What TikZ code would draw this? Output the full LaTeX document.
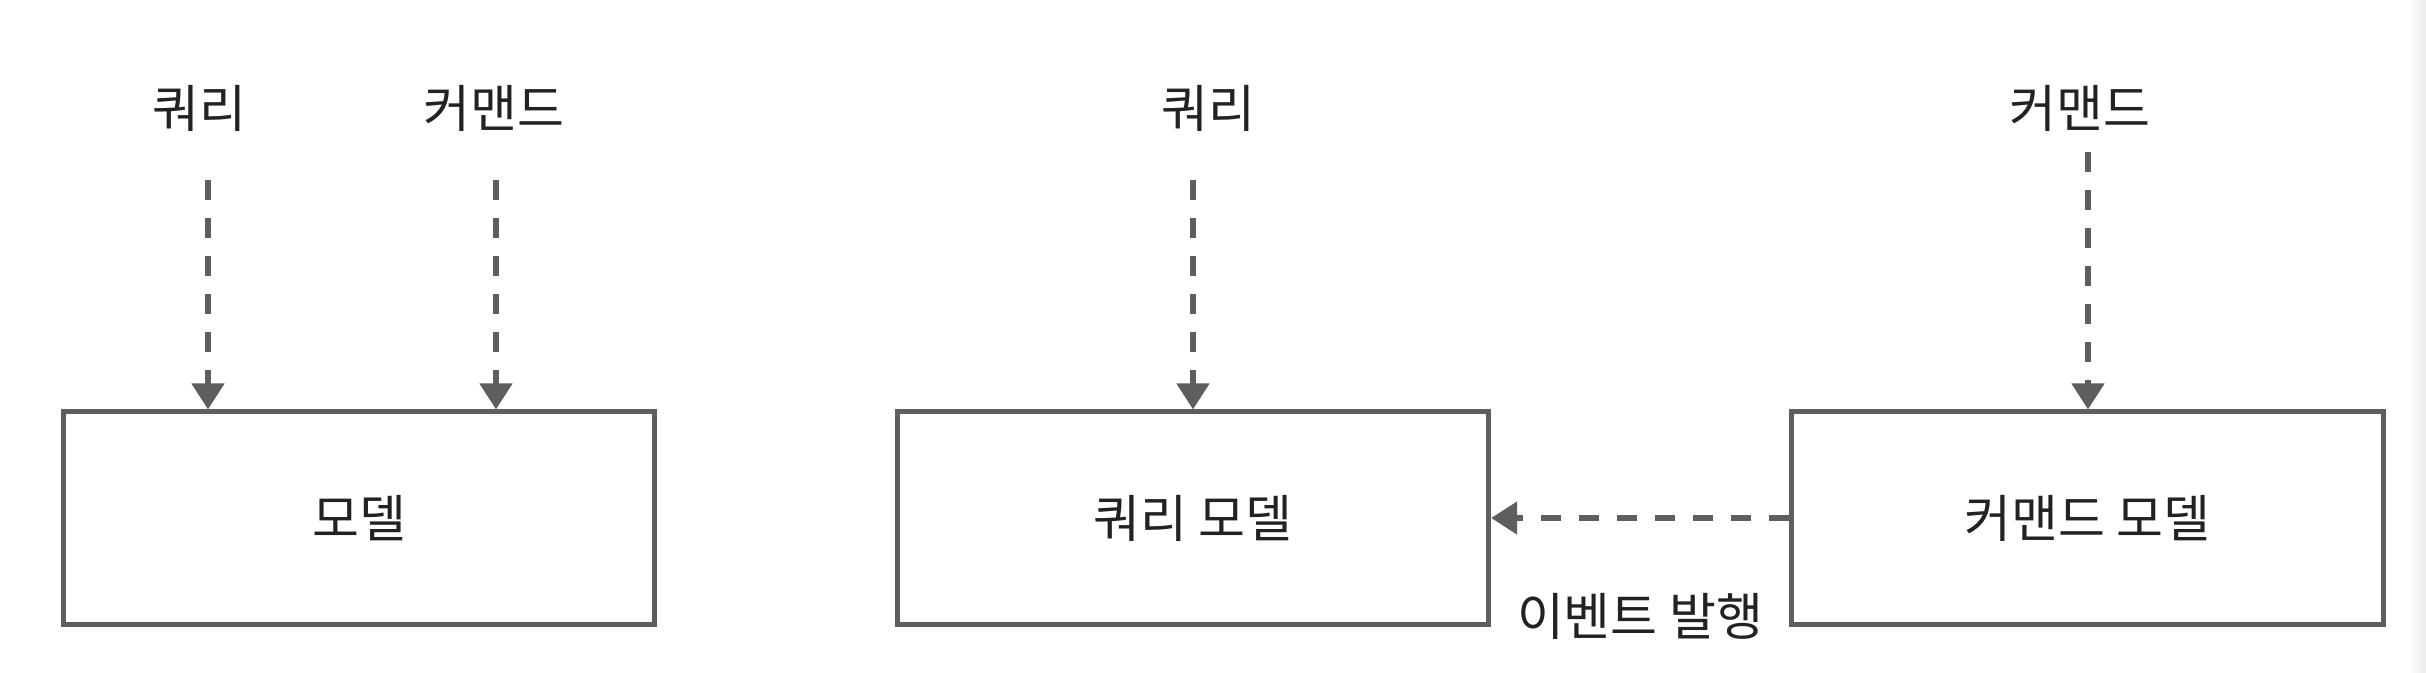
\documentclass[tikz,border=0pt]{standalone}
\usepackage{fontspec}
\setmainfont{Noto Sans CJK KR}
\usetikzlibrary{arrows.meta}
\definecolor{linegray}{HTML}{5E5E5E}
\definecolor{txt}{HTML}{222222}
\definecolor{edgegray}{HTML}{EBEBEB}
\tikzset{
  modelbox/.style={draw=linegray, line width=1.45pt, minimum width=5.91cm, minimum height=2.12cm, inner sep=0pt, text=txt, font=\fontsize{14.5}{16}\selectfont},
  lbl/.style={text=txt, inner sep=0pt, font=\fontsize{14.5}{16}\selectfont},
  dasharrow/.style={draw=linegray, line width=1.45pt, dash pattern=on 0.2cm off 0.18cm, -{Triangle[width=0.32cm,length=0.26cm]}}
}
\begin{document}
\begin{tikzpicture}[x=0.01cm,y=-0.01cm]
\useasboundingbox[fill=white] (0,0) rectangle (2426,672);
\shade[left color=white, right color=edgegray] (2408,0) rectangle (2426,672);
% boxes
\node[modelbox] (m1) at (359,518) {모델};
\node[modelbox] (qm) at (1193,518) {쿼리 모델};
\node[modelbox] (cm) at (2087.5,518) {커맨드 모델};
% labels
\node[lbl] (q1) at (199,108) {쿼리};
\node[lbl] (c1) at (494,108) {커맨드};
\node[lbl] (q2) at (1208,108) {쿼리};
\node[lbl] (c2) at (2080,108) {커맨드};
\node[lbl] (ev) at (1640,616) {이벤트 발행};
% arrow start points
\coordinate (q1s) at (208,180);
\coordinate (c1s) at (496,180);
\coordinate (q2s) at (1193,180);
\coordinate (c2s) at (2088,152);
\draw[dasharrow] (q1s) -- (q1s |- m1.north);
\draw[dasharrow] (c1s) -- (c1s |- m1.north);
\draw[dasharrow] (q2s) -- (q2s |- qm.north);
\draw[dasharrow] (c2s) -- (c2s |- cm.north);
\draw[dasharrow] (cm.west) -- (qm.east);
\end{tikzpicture}
\end{document}
